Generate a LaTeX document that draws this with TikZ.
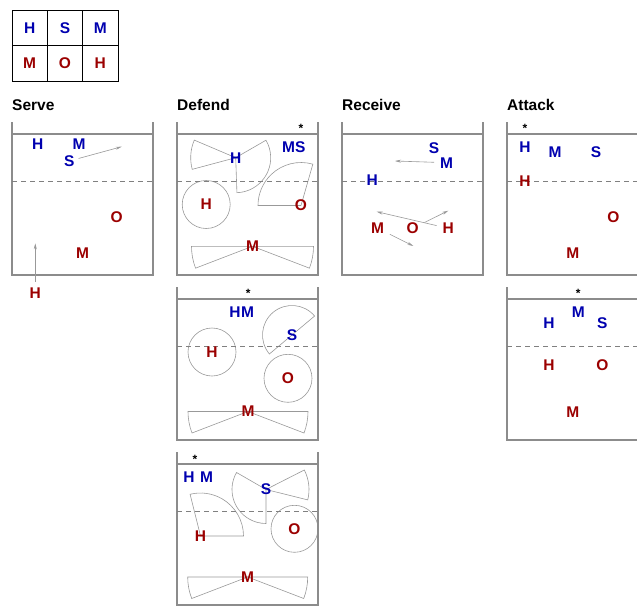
\documentclass[tikz,border=0pt]{standalone}
\usepackage{fontspec}
\setmainfont{Liberation Sans}
\usetikzlibrary{arrows.meta,backgrounds}
\definecolor{plblue}{RGB}{0,0,175}
\definecolor{plred}{RGB}{155,0,0}
\tikzset{
  ply/.style={font=\bfseries\fontsize{15.5}{17}\selectfont,inner sep=1pt},
  blu/.style={ply,text=plblue},
  rd/.style={ply,text=plred},
  ttl/.style={font=\bfseries\fontsize{15.5}{17}\selectfont,inner sep=0pt,anchor=base west},
  star/.style={font=\bfseries\fontsize{12}{14}\selectfont,inner sep=0pt,anchor=base},
  courtline/.style={draw=black!45,line width=1.1pt},
  attline/.style={draw=black!50,line width=0.9pt,dash pattern=on 5pt off 4pt},
  zoneline/.style={draw=black!40,line width=0.6pt},
  mv/.style={draw=black!40,line width=0.6pt,->,shorten <=5pt},
  >={Stealth[length=6pt,width=3pt]}
}
\newcommand{\court}[2]{%
  \draw[courtline] (#1,-#2+12) -- (#1,-#2-141) -- (#1+141,-#2-141) -- (#1+141,-#2+12);
  \draw[courtline] (#1,-#2) -- (#1+141,-#2);
  \draw[attline] (#1,-#2-47) -- (#1+141,-#2-47);}
\newcommand{\zone}[4]{\draw[zoneline] (#1.center) -- ++(#2:#4) arc[start angle=#2,end angle=#3,radius=#4] -- cycle;}

\begin{document}
\begin{tikzpicture}[x=1pt,y=1pt]
\useasboundingbox (0,0) rectangle (637,-605);

\draw[line width=0.8pt] (12,-10) rectangle (118,-81);
\draw[line width=0.8pt] (47.33,-10) -- (47.33,-81) (82.67,-10) -- (82.67,-81) (12,-45.5) -- (118,-45.5);
\node[blu] (lgH) at (29.7,-27.7) {H};
\node[blu] (lgS) at (65,-27.7) {S};
\node[blu] (lgM) at (100.3,-27.7) {M};
\node[rd] (lgMr) at (29.7,-63.2) {M};
\node[rd] (lgO) at (65,-63.2) {O};
\node[rd] (lgHr) at (100.3,-63.2) {H};

\node[ttl] (tServe) at (12,-110) {Serve};
\node[ttl] (tDefend) at (177,-110) {Defend};
\node[ttl] (tReceive) at (342,-110) {Receive};
\node[ttl] (tAttack) at (507,-110) {Attack};

\court{12}{134}
\court{177}{134}
\court{342}{134}
\court{507}{134}
\court{177}{299}
\court{507}{299}
\court{177}{464}

% serve
\node[blu] (sHb) at (37.7,-144.3) {H};
\node[blu] (sMb) at (79,-144.3) {M};
\node[blu] (sSb) at (69.3,-161) {S};
\node[rd] (sOr) at (116.7,-217.3) {O};
\node[rd] (sMr) at (82.7,-253.3) {M};
\node[rd] (sHr) at (35.3,-293.3) {H};
\coordinate (sSend) at (121.7,-146.7);
\coordinate (sHend) at (35.3,-243.3);
\draw[mv,shorten <=3pt] (sSb) -- (sSend);
\draw[mv] (sHr) -- (sHend);

% defend
\node[star] (d1Star) at (301,-132) {*};
\node[blu] (d1Hb) at (235.7,-157.7) {H};
\node[blu] (d1Mb) at (288.7,-146.7) {M};
\node[blu] (d1Sb) at (300.4,-146.7) {S};
\node[rd] (d1Hr) at (206.2,-204.5) {H};
\node[rd] (d1Or) at (301,-205.5) {O};
\node[rd] (d1Mr) at (252.5,-246.3) {M};

\node[star] (d2Star) at (248.3,-297) {*};
\node[blu] (d2Hb) at (235,-312.3) {H};
\node[blu] (d2Mb) at (247.5,-312.3) {M};
\node[blu] (d2Sb) at (292,-335) {S};
\node[rd] (d2Hr) at (212,-352) {H};
\node[rd] (d2Or) at (288,-378.3) {O};
\node[rd] (d2Mr) at (248,-411.5) {M};

\node[star] (d3Star) at (195,-463) {*};
\node[blu] (d3Hb) at (189,-476.7) {H};
\node[blu] (d3Mb) at (206.7,-476.7) {M};
\node[blu] (d3Sb) at (266,-489.5) {S};
\node[rd] (d3Hr) at (200.5,-536) {H};
\node[rd] (d3Or) at (294.5,-528.8) {O};
\node[rd] (d3Mr) at (247.7,-577) {M};

\begin{scope}[on background layer]
\zone{d1Hb}{157}{195}{45}
\zone{d1Hb}{-88}{30}{35}
\draw[zoneline] (d1Hr.center) circle[radius=24];
\zone{d1Or}{74}{180}{43}
\zone{d1Mr}{180}{201}{61}
\zone{d1Mr}{-21}{0}{61}
\zone{d2Sb}{40}{220}{29.5}
\draw[zoneline] (d2Hr.center) circle[radius=24];
\draw[zoneline] (d2Or.center) circle[radius=24];
\zone{d2Mr}{180}{201}{60}
\zone{d2Mr}{-21}{0}{60}
\zone{d3Sb}{150}{270}{34}
\zone{d3Sb}{-14}{27}{43}
\zone{d3Hr}{0}{104}{43}
\draw[zoneline] (d3Or.center) circle[radius=23.5];
\zone{d3Mr}{180}{201}{60}
\zone{d3Mr}{-21}{0}{60}
\end{scope}

% receive
\node[blu] (rSb) at (434,-147.7) {S};
\node[blu] (rMb) at (446.7,-162.7) {M};
\node[blu] (rHb) at (372.3,-180) {H};
\node[rd] (rMr) at (377.7,-228.3) {M};
\node[rd] (rOr) at (412.7,-228.3) {O};
\node[rd] (rHr) at (448.3,-228.3) {H};
\coordinate (rMend) at (395,-161);
\coordinate (rMrend) at (413.3,-246);
\coordinate (rOrend) at (448.3,-210.7);
\coordinate (rHrend) at (376.7,-211.7);
\draw[mv] (rMb) -- (rMend);
\draw[mv] (rMr) -- (rMrend);
\draw[mv] (rOr) -- (rOrend);
\draw[mv] (rHr) -- (rHrend);

% attack
\node[star] (a1Star) at (525,-132) {*};
\node[blu] (a1Hb) at (525,-146.7) {H};
\node[blu] (a1Mb) at (555,-152.3) {M};
\node[blu] (a1Sb) at (596,-152.3) {S};
\node[rd] (a1Hr) at (525,-180.7) {H};
\node[rd] (a1Or) at (613.3,-217.3) {O};
\node[rd] (a1Mr) at (572.7,-252.7) {M};

\node[star] (a2Star) at (578.3,-297) {*};
\node[blu] (a2Mb) at (578.3,-311.7) {M};
\node[blu] (a2Hb) at (549,-323.3) {H};
\node[blu] (a2Sb) at (602.3,-323.3) {S};
\node[rd] (a2Hr) at (549,-365) {H};
\node[rd] (a2Or) at (602.3,-365) {O};
\node[rd] (a2Mr) at (572.7,-411.7) {M};
\end{tikzpicture}
\end{document}
